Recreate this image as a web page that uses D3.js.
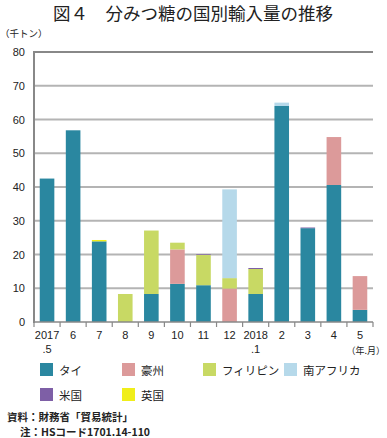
<!DOCTYPE html>
<html><head><meta charset="utf-8">
<script src="https://cdn.jsdelivr.net/npm/d3@7"></script>
<style>
body{margin:0;background:#fff;}
text{font-family:"Noto Sans CJK JP","Noto Sans",sans-serif;fill:#222;}
.num{font-family:"Liberation Sans",Arial,sans-serif;}
</style></head>
<body><svg id="c" width="387" height="438"></svg>
<script>
const categories = ["2017\n.5","6","7","8","9","10","11","12","2018\n.1","2","3","4","5"];
const seriesNames = ["タイ","豪州","フィリピン","南アフリカ","米国","英国"];
const thai        = [42.5,56.8,23.9,0,8.3,11.3,10.9,0,8.3,64.0,27.8,40.6,3.6];
const australia   = [0,0,0,0,0,10.2,0,9.9,0,0,0,14.2,10.0];
const philippines = [0,0,0,8.3,18.8,2.0,9.0,3.1,7.4,0,0,0,0];
const southAfrica = [0,0,0,0,0,0,0,26.3,0,1.0,0,0,0];
const usa         = [0,0,0,0,0,0,0.2,0,0.3,0,0.2,0,0];
const uk          = [0,0,0.4,0,0,0,0,0,0,0,0,0,0];
const yTicks = [0,10,20,30,40,50,60,70,80];
const colors = ["#2a87a0","#dc9a9a","#c8d964","#b6d9ea","#7e5fa6","#f0ee1a"];

const seriesData = [thai,australia,philippines,southAfrica,usa,uk];
const table = categories.map((c,i)=>{const o={cat:c};seriesNames.forEach((s,j)=>o[s]=seriesData[j][i]);return o;});
const stacked = d3.stack().keys(seriesNames)(table);

const svg = d3.select("#c");
const L=34,R=373,T=52,B=322;
const x = d3.scaleBand().domain(categories).range([L,R]).paddingInner(0.44).paddingOuter(0.22);
const xb = d3.scaleBand().domain(categories).range([L,R]);
const y = d3.scaleLinear().domain([0,80]).range([B,T]);

svg.append("text").attr("x",193).attr("y",20).attr("text-anchor","middle")
  .style("font-size","17.5px").style("font-weight","400").text("図４　分みつ糖の国別輸入量の推移");
svg.append("text").attr("x",0).attr("y",37).style("font-size","9.5px").text("（千トン）");

// grid
svg.append("g").selectAll("line").data(yTicks.filter(d=>d>0)).join("line")
  .attr("x1",L).attr("x2",R).attr("y1",d=>y(d)).attr("y2",d=>y(d))
  .attr("stroke",d=>d===80?"#888":"#b4b4b4").attr("stroke-width",2);

// y labels
svg.append("g").selectAll("text").data(yTicks).join("text").attr("class","num")
  .attr("x",25).attr("y",d=>y(d)+4).attr("text-anchor","end").style("font-size","11px").text(d=>d);

// bars
svg.append("g").selectAll("g").data(stacked).join("g").attr("fill",(d,i)=>colors[i])
  .selectAll("rect").data(d=>d.filter(e=>e[1]-e[0]>0)).join("rect")
  .attr("x",d=>x(d.data.cat)).attr("width",x.bandwidth())
  .attr("y",d=>y(d[1])).attr("height",d=>y(d[0])-y(d[1]));

// axes
svg.append("line").attr("x1",L).attr("x2",L).attr("y1",T-1).attr("y2",B+1).attr("stroke","#888").attr("stroke-width",2);
svg.append("line").attr("x1",L).attr("x2",R).attr("y1",B).attr("y2",B).attr("stroke","#888").attr("stroke-width",1.5);
const tickPos = categories.map(c=>xb(c)).concat([R]);
svg.append("g").selectAll("line").data(tickPos).join("line")
  .attr("x1",d=>d).attr("x2",d=>d).attr("y1",B).attr("y2",B+5).attr("stroke","#888").attr("stroke-width",1.2);

// x labels
const xl = svg.append("g").selectAll("text").data(categories).join("text").attr("class","num")
  .attr("x",d=>xb(d)+xb.bandwidth()/2).attr("y",339).attr("text-anchor","middle").style("font-size","11px");
xl.each(function(d){
  const parts=d.split("\n");
  d3.select(this).selectAll("tspan").data(parts).join("tspan")
    .attr("x",xb(d)+xb.bandwidth()/2).attr("dy",(p,i)=>i?14:0).text(p=>p);
});
svg.append("text").attr("x",385).attr("y",354).attr("text-anchor","end")
  .style("font-size","9px").text("（年.月）");

// legend
const legPos = [[40,363],[122,363],[203,363],[284,363],[40,388],[122,388]];
const lg = svg.append("g").selectAll("g").data(seriesNames).join("g")
  .attr("transform",(d,i)=>`translate(${legPos[i][0]},${legPos[i][1]})`);
lg.append("rect").attr("width",13).attr("height",13).attr("fill",(d,i)=>colors[i]);
lg.append("text").attr("x",19).attr("y",11.5).style("font-size","11.5px").text(d=>d);

svg.append("text").attr("x",7).attr("y",421).style("font-size","10.5px").style("font-weight","700").text("資料：財務省「貿易統計」");
svg.append("text").attr("x",20).attr("y",436).style("font-size","10.5px").style("font-weight","700").text("注：HSコード1701.14-110");
</script></body></html>
